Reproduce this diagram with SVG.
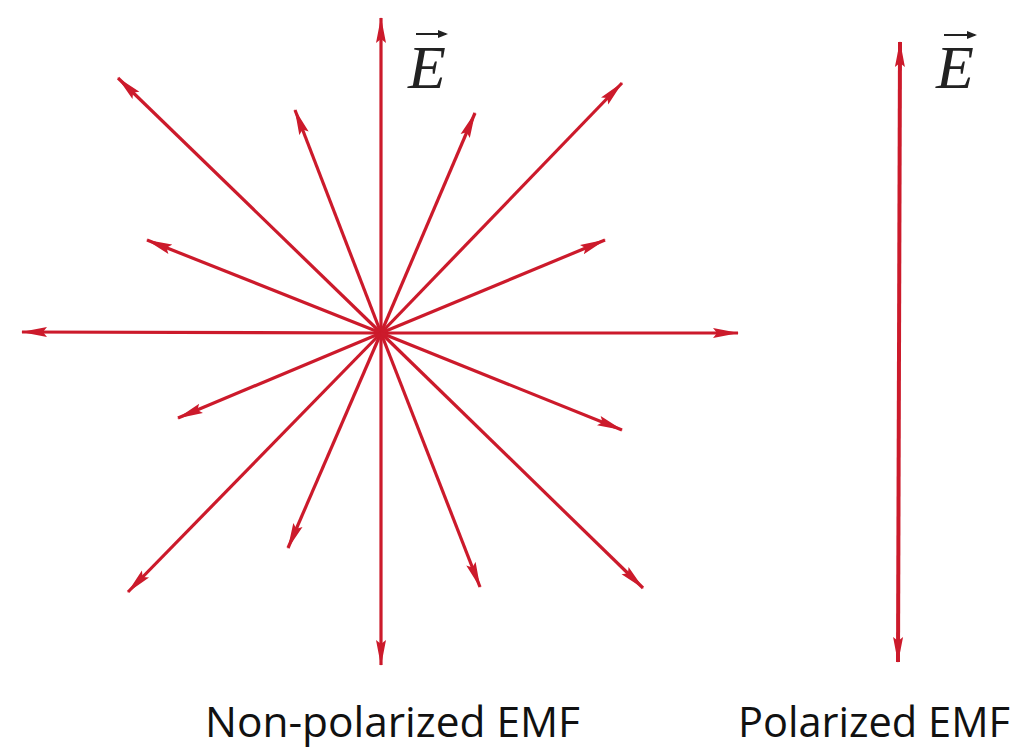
<svg xmlns="http://www.w3.org/2000/svg" width="1017" height="747" viewBox="0 0 1017 747">
<defs>
<marker id="ah" markerUnits="userSpaceOnUse" markerWidth="26" markerHeight="12" refX="25" refY="6" orient="auto">
<path d="M0,1 L26,6 L0,11 L4,6 z" fill="#cc1a2b"/>
</marker>
<style>
.v{stroke:#cc1a2b;stroke-width:3.2;fill:none;marker-end:url(#ah)}
.p{stroke-width:4}
.e{font-family:"Liberation Serif",serif;font-style:italic;font-size:62px;fill:#222}
.lbl{font-family:"Open Sans","Liberation Sans",sans-serif;font-size:42px;fill:#111}
</style>
</defs>
<rect width="1017" height="747" fill="#fff"/>
<g id="connectors">
<line class="v" x1="381" y1="333" x2="381" y2="18"/>
<line class="v" x1="381" y1="333" x2="381" y2="665"/>
<line class="v" x1="381" y1="333" x2="22" y2="332"/>
<line class="v" x1="381" y1="333" x2="738" y2="333"/>
<line class="v" x1="381" y1="333" x2="118" y2="78"/>
<line class="v" x1="381" y1="333" x2="295" y2="110"/>
<line class="v" x1="381" y1="333" x2="147" y2="240"/>
<line class="v" x1="381" y1="333" x2="475" y2="113"/>
<line class="v" x1="381" y1="333" x2="622" y2="83"/>
<line class="v" x1="381" y1="333" x2="605" y2="240"/>
<line class="v" x1="381" y1="333" x2="178" y2="418"/>
<line class="v" x1="381" y1="333" x2="288" y2="548"/>
<line class="v" x1="381" y1="333" x2="128" y2="592"/>
<line class="v" x1="381" y1="333" x2="480" y2="587"/>
<line class="v" x1="381" y1="333" x2="643" y2="588"/>
<line class="v" x1="381" y1="333" x2="622" y2="430"/>
<line class="v p" x1="899" y1="352" x2="900" y2="42"/>
<line class="v p" x1="899" y1="352" x2="898" y2="662"/>
</g>
<g id="label-E1">
<text class="e" x="408" y="88">E</text>
<line x1="416" y1="34" x2="446" y2="34" stroke="#222" stroke-width="2"/>
<path d="M438,30 L448,34 L438,38 z" fill="#222"/>
</g>
<g id="label-E2">
<text class="e" x="936" y="88">E</text>
<line x1="944" y1="35" x2="975" y2="35" stroke="#222" stroke-width="2"/>
<path d="M967,31 L977,35 L967,39 z" fill="#222"/>
</g>
<g id="caption-nonpolarized">
<text class="lbl" x="205" y="737" textLength="375" lengthAdjust="spacingAndGlyphs">Non-polarized EMF</text>
</g>
<g id="caption-polarized">
<text class="lbl" x="738" y="737" textLength="272" lengthAdjust="spacingAndGlyphs">Polarized EMF</text>
</g>
</svg>
